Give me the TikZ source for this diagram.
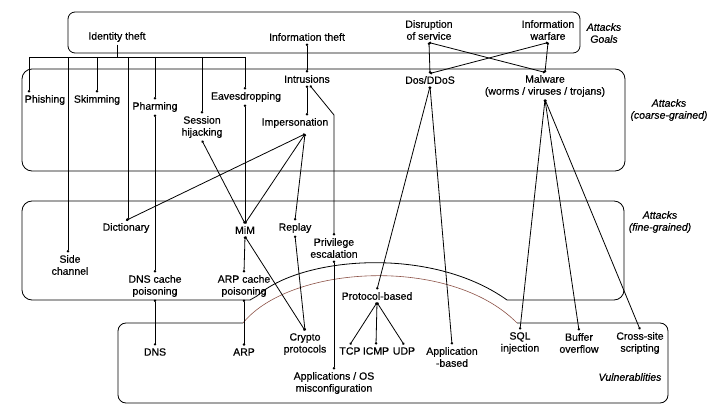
\documentclass[tikz,border=0pt]{standalone}
\usepackage{fontspec}
\setmainfont{Liberation Sans}[FakeBold=0.5]
\usetikzlibrary{arrows.meta}
\definecolor{arcbrown}{rgb}{0.55,0.32,0.28}
\begin{document}
\begin{tikzpicture}[x=1pt,y=-1pt,
  lbl/.style={align=center, inner sep=2.5pt, font=\fontsize{10.5}{12}\selectfont},
  ital/.style={align=center, inner sep=2.5pt, font=\fontsize{10.5}{12}\selectfont\itshape},
  box/.style={draw, line width=0.8pt},
  conn/.style={draw, line width=0.8pt, {Circle[length=2.4pt]}-{Circle[length=2.4pt]}},
  leg/.style={draw, line width=0.8pt, -{Circle[length=2.4pt]}},
  bus/.style={draw, line width=0.8pt}]
\useasboundingbox (0,0) rectangle (721,414);

% ---------- boxes ----------
\draw[box, rounded corners=7pt] (68,12) rectangle (580,53);
\draw[box, rounded corners=10pt] (22,69) rectangle (625,171);
\draw[box, rounded corners=10pt] (250,300) -- (22,300) -- (22,201) -- (624,201) -- (624,300) -- (507,300);
\draw[box] (250,300) -- (257,296) .. controls (300,257) and (430,245) .. (507,300);
\draw[box, rounded corners=8pt] (243,323) -- (118,323) -- (118,403) -- (668,403) -- (668,323) -- (517,323);
\draw[arcbrown, line width=0.6pt] (243,323) .. controls (290,265) and (450,255) .. (517,323);

% ---------- goals ----------
\node[lbl] (idtheft) at (117,37) {Identity theft};
\node[lbl] (infotheft) at (307,37) {Information theft};
\node[lbl] (disrupt) at (429,30) {Disruption\\of service};
\node[lbl] (infowar) at (548,30) {Information\\warfare};
\node[ital] (goalslbl) at (604,33) {Attacks\\Goals};

% ---------- coarse-grained ----------
\node[lbl] (phish) at (45,100) {Phishing};
\node[lbl] (skim) at (97,100) {Skimming};
\node[lbl] (pharm) at (155,107) {Pharming};
\node[lbl] (eaves) at (246,97) {Eavesdropping};
\node[lbl] (session) at (202,127) {Session\\hijacking};
\node[lbl] (intr) at (307,79) {Intrusions};
\node[lbl] (imperson) at (295,123) {Impersonation};
\node[lbl] (dos) at (430,80) {Dos/DDoS};
\node[lbl] (malware) at (545,86) {Malware\\(worms / viruses / trojans)};
\node[ital] (coarselbl) at (669,110) {Attacks\\(coarse-grained)};

% ---------- fine-grained ----------
\node[lbl] (dict) at (126,228) {Dictionary};
\node[lbl] (sidech) at (70,265) {Side\\channel};
\node[lbl] (mim) at (245,230) {MiM};
\node[lbl] (replay) at (295,228) {Replay};
\node[lbl] (priv) at (334,248) {Privilege\\escalation};
\node[lbl] (dnscp) at (155,286) {DNS cache\\poisoning};
\node[lbl] (arpcp) at (244,286) {ARP cache\\poisoning};
\node[lbl] (protob) at (377,296) {Protocol-based};
\node[ital] (finelbl) at (660,222) {Attacks\\(fine-grained)};

% ---------- vulnerabilities ----------
\node[lbl] (dns) at (155,352) {DNS};
\node[lbl] (arp) at (244,352) {ARP};
\node[lbl] (crypto) at (305,344) {Crypto\\protocols};
\node[lbl] (appos) at (334,383) {Applications / OS\\misconfiguration};
\node[lbl] (tcp) at (350,351) {TCP};
\node[lbl] (icmp) at (376,351) {ICMP};
\node[lbl] (udp) at (404,351) {UDP};
\node[lbl] (appb) at (452,357) {Application\\-based};
\node[lbl] (sql) at (520,343) {SQL\\injection};
\node[lbl] (buf) at (579,343) {Buffer\\overflow};
\node[lbl] (xss) at (640,343) {Cross-site\\scripting};
\node[ital] (vulnlbl) at (630,377) {Vulnerablities};

% ---------- identity theft bus ----------
\coordinate (busc) at (117,57);
\coordinate (b1) at (29,57);
\coordinate (b2) at (68,57);
\coordinate (b3) at (97,57);
\coordinate (b4) at (128,57);
\coordinate (b5) at (155,57);
\coordinate (b6) at (202,57);
\coordinate (b7) at (245,57);
\draw[bus] (idtheft) -- (busc);
\draw[bus] (b1) -- (b7);
\draw[leg] (b1) -- (b1 |- phish.north);
\draw[leg] (b2) -- (b2 |- sidech.north);
\draw[leg] (b3) -- (b3 |- skim.north);
\draw[leg] (b4) -- (b4 |- dict.north);
\draw[leg] (b5) -- (b5 |- pharm.north);
\draw[leg] (b6) -- (b6 |- session.north);
\draw[leg] (b7) -- (b7 |- eaves.north);

% ---------- other connectors ----------
\coordinate (impdot) at (305,134);
\draw[conn] (eaves.south -| mim.north) -- (mim.north);
\draw[conn] (session.south) -- (mim.north);
\draw[conn] (impdot) -- (mim.north);
\draw[conn] (impdot) -- (dict.north);
\draw[conn] (impdot) -- (replay.north);
\draw[conn] (pharm.south) -- (dnscp.north);
\draw[conn] (dnscp.south) -- (dns.north);
\draw[conn] (mim.south) -- (arpcp.north);
\draw[conn] (arpcp.south) -- (arp.north);
\draw[conn] (mim.south) -- (crypto.north);
\draw[conn] (replay.south) -- (crypto.north);

\draw[conn] (infotheft.south) -- (intr.north);
\draw[conn] (intr.south) -- (intr.south |- imperson.north);
\coordinate (privbend) at (334,115);
\draw[conn] ([xshift=3pt]intr.south) -- (privbend) -- (priv.north);
\draw[conn] (priv.south) -- (appos.north);

\draw[conn] (disrupt.south) -- (dos.north);
\draw[conn] (disrupt.south) -- (malware.north);
\draw[conn] (infowar.south) -- (malware.north);
\draw[conn] (infowar.south) -- (dos.north);

\draw[conn] (dos.south) -- (protob.north);
\draw[conn] (dos.south) -- (appb.north);
\draw[conn] (protob.south) -- (tcp.north);
\draw[conn] (protob.south) -- (icmp.north);
\draw[conn] (protob.south) -- (udp.north);

\draw[conn] (malware.south) -- (sql.north);
\draw[conn] (malware.south) -- (buf.north);
\draw[conn] (malware.south) -- (xss.north);
\end{tikzpicture}
\end{document}
